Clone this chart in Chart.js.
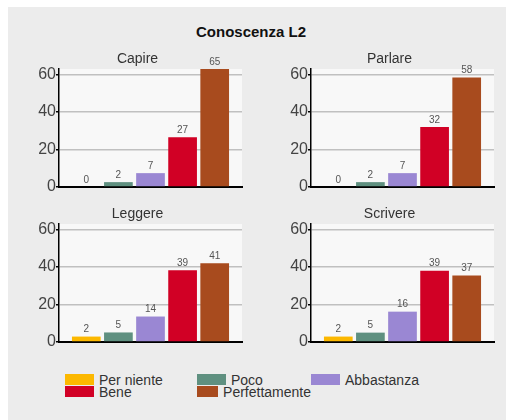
<!DOCTYPE html>
<html>
<head>
<meta charset="utf-8">
<script src="https://cdn.jsdelivr.net/npm/chart.js@4/dist/chart.umd.min.js"></script>
<style>
    body { margin: 0; width: 506px; height: 420px; overflow: hidden; background: #fff; position: relative;
           font-family: "Liberation Sans", Arial, sans-serif; }
    #bg { position: absolute; left: 8px; top: 7px; right: 0; bottom: 0; background: #ececec; }
    #title { position: absolute; left: 0; top: 23px; width: 502px; text-align: center; font-weight: bold;
             font-size: 15px; line-height: 18px; color: #111; }
    canvas { position: absolute; }
    #legend { position: absolute; left: 65px; top: 374px; display: grid; grid-template-columns: 132px 114px auto;
              grid-auto-rows: 12px; font-size: 14px; color: #333; }
    .item { display: flex; align-items: flex-start; line-height: 12px; white-space: nowrap; }
    .sw { width: 29px; height: 11px; margin-right: 5px; }
</style>
</head>
<body>
<div id="bg"></div>
<div id="title">Conoscenza L2</div>
<canvas id="c0" width="224" height="149" style="left:33px;top:50px"></canvas>
<canvas id="c1" width="224" height="149" style="left:285px;top:50px"></canvas>
<canvas id="c2" width="224" height="149" style="left:33px;top:205px"></canvas>
<canvas id="c3" width="224" height="149" style="left:285px;top:205px"></canvas>
<div id="legend"></div>
<script>
    'use strict';

    var levels = ['Per niente', 'Poco', 'Abbastanza', 'Bene', 'Perfettamente'];
    var colors = ['#fcb800', '#5f9080', '#9a87d3', '#d10025', '#a84b1e'];
    var skills = ['Capire', 'Parlare', 'Leggere', 'Scrivere'];

    // bar heights as drawn, and the numbers printed above them
    var capire = [0, 2.6, 7.4, 26.6, 65];
    var capireText = ['0', '2', '7', '27', '65'];
    var parlare = [0, 2.6, 7.4, 32.1, 58.4];
    var parlareText = ['0', '2', '7', '32', '58'];
    var leggere = [2.9, 5.1, 13.6, 38.3, 42];
    var leggereText = ['2', '5', '14', '39', '41'];
    var scrivere = [2.9, 5, 16.2, 38.1, 35.5];
    var scrivereText = ['2', '5', '16', '39', '37'];

    var yTicks = [0, 20, 40, 60];
    var family = '"Liberation Sans", Arial, sans-serif';

    var plotBg = {
        id: 'plotBg',
        beforeDraw: function (chart) {
            var a = chart.chartArea;
            chart.ctx.save();
            chart.ctx.fillStyle = '#f8f8f8';
            chart.ctx.fillRect(a.left, a.top, a.right - a.left, a.bottom - a.top);
            chart.ctx.restore();
        }
    };

    var valueLabels = {
        id: 'valueLabels',
        afterDatasetsDraw: function (chart, args, opts) {
            var ctx = chart.ctx;
            ctx.save();
            ctx.font = '10px ' + family;
            ctx.fillStyle = '#555';
            ctx.textAlign = 'center';
            ctx.textBaseline = 'bottom';
            chart.data.datasets.forEach(function (ds, i) {
                var bar = chart.getDatasetMeta(i).data[0];
                ctx.fillText(opts.texts[i], bar.x, Math.max(bar.y, chart.chartArea.top) - 2);
            });
            ctx.restore();
        }
    };

    function makePanel(id, skill, heights, texts) {
        return new Chart(document.getElementById(id), {
            type: 'bar',
            data: {
                labels: [skill],
                datasets: levels.map(function (lv, i) {
                    return {
                        label: lv,
                        data: [heights[i]],
                        backgroundColor: colors[i],
                        borderWidth: 0,
                        clip: 0,
                        categoryPercentage: 0.877,
                        barPercentage: 0.894
                    };
                })
            },
            options: {
                responsive: false,
                animation: false,
                layout: { padding: { left: 0, right: 15, top: 0, bottom: 0 } },
                plugins: {
                    legend: { display: false },
                    tooltip: { enabled: false },
                    title: {
                        display: true,
                        text: skill,
                        color: '#333',
                        font: { family: family, size: 14, weight: 'normal', lineHeight: '18px' },
                        padding: { top: 0, bottom: 1 }
                    },
                    valueLabels: { texts: texts }
                },
                scales: {
                    x: {
                        ticks: { display: false },
                        grid: { display: false },
                        border: { color: '#000', width: 2 },
                        afterFit: function (s) { s.height = 12; }
                    },
                    y: {
                        min: 0,
                        max: 63,
                        afterBuildTicks: function (s) {
                            s.ticks = yTicks.map(function (v) { return { value: v }; });
                        },
                        ticks: { padding: 0, color: '#444', font: { family: family, size: 16 } },
                        grid: { color: '#c0c0c0', lineWidth: 1.5, tickColor: '#000', tickLength: 3 },
                        border: { color: '#000', width: 1.5 },
                        afterFit: function (s) {
                            s.width = 26;
                            s.paddingTop = 0;
                            s.paddingBottom = 0;
                        }
                    }
                }
            },
            plugins: [plotBg, valueLabels]
        });
    }

    makePanel('c0', skills[0], capire, capireText);
    makePanel('c1', skills[1], parlare, parlareText);
    makePanel('c2', skills[2], leggere, leggereText);
    makePanel('c3', skills[3], scrivere, scrivereText);

    // legend: first row three entries, second row the rest
    var legend = document.getElementById('legend');
    levels.forEach(function (lv, i) {
        var item = document.createElement('div');
        item.className = 'item';
        var sw = document.createElement('span');
        sw.className = 'sw';
        sw.style.background = colors[i];
        item.appendChild(sw);
        item.appendChild(document.createTextNode(lv));
        legend.appendChild(item);
    });
</script>
</body>
</html>
